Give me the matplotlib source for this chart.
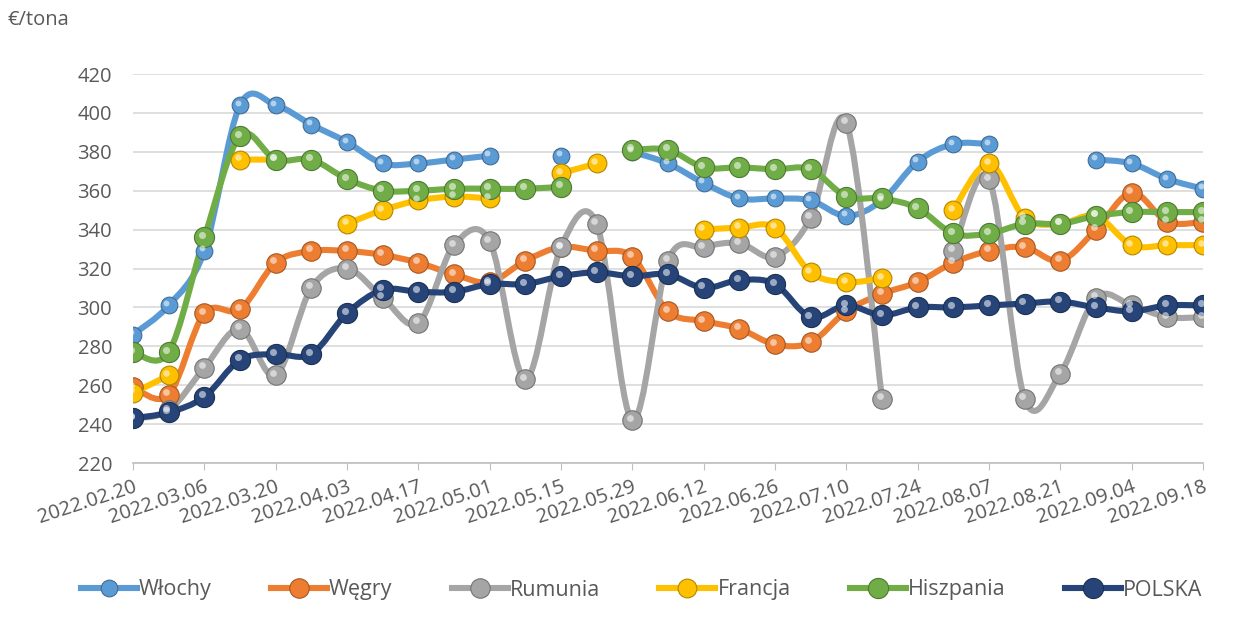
import numpy as np
import matplotlib.pyplot as plt
from matplotlib.path import Path
from matplotlib.patches import PathPatch
from matplotlib.lines import Line2D
from matplotlib import transforms

plt.rcParams['font.family'] = ['Open Sans', 'DejaVu Sans']

nan = np.nan

dates = ['2022.02.20', '2022.02.27', '2022.03.06', '2022.03.13', '2022.03.20', '2022.03.27',
         '2022.04.03', '2022.04.10', '2022.04.17', '2022.04.24', '2022.05.01', '2022.05.08',
         '2022.05.15', '2022.05.22', '2022.05.29', '2022.06.05', '2022.06.12', '2022.06.19',
         '2022.06.26', '2022.07.03', '2022.07.10', '2022.07.17', '2022.07.24', '2022.07.31',
         '2022.08.07', '2022.08.14', '2022.08.21', '2022.08.28', '2022.09.04', '2022.09.11',
         '2022.09.18']

wlochy = [286, 301, 329, 404, 404, 394, 385, 374, 374, 376, 378, nan, 378, nan, 380, 374,
          364, 356, 356, 355, 347, 355, 375, 384, 384, nan, nan, 376, 374, 366, 361]
wegry = [259, 255, 297, 299, 323, 329, 329, 327, 323, 317, 313, 324, 331, 329, 326, 298,
         293, 289, 281, 282, 298, 307, 313, 323, 329, 331, 324, 340, 359, 344, 344]
rumunia = [243, 247, 269, 289, 265, 310, 320, 305, 292, 332, 334, 263, 331, 343, 242, 324,
           331, 333, 326, 346, 395, 253, nan, 329, 366, 253, 266, 305, 301, 295, 295]
francja = [256, 265, nan, 376, 376, nan, 343, 350, 355, 357, 356, nan, 369, 374, nan, nan,
           340, 341, 341, 318, 313, 315, nan, 350, 374, 346, 343, 347, 332, 332, 332]
hiszpania = [277, 277, 336, 388, 376, 376, 366, 360, 360, 361, 361, 361, 362, nan, 381, 381,
             372, 372, 371, 371, 357, 356, 351, 338, 338, 343, 343, 347, 349, 349, 349]
polska = [243, 246, 254, 273, 276, 276, 297, 309, 308, 308, 312, 312, 316, 318, 316, 317,
          310, 314, 312, 295, 301, 296, 300, 300, 301, 302, 303, 300, 298, 301, 301]

series = [('Włochy', wlochy, '#5B9BD5', 12),
          ('Węgry', wegry, '#ED7D31', 14),
          ('Rumunia', rumunia, '#A5A5A5', 14),
          ('Francja', francja, '#FFC000', 13.5),
          ('Hiszpania', hiszpania, '#70AD47', 14.5),
          ('POLSKA', polska, '#264478', 14.5)]


def darker(c, f=0.7):
    r, g, b = [int(c[i:i + 2], 16) / 255 for i in (1, 3, 5)]
    return (r * f, g * f, b * f)


def smooth_path(xs, ys):
    # bezier segments like excel's "smoothed line"
    pts = list(zip(xs, ys))
    verts = [pts[0]]
    codes = [Path.MOVETO]
    n = len(pts)
    for i in range(n - 1):
        p0 = pts[i - 1] if i > 0 else pts[i]
        p1 = pts[i]
        p2 = pts[i + 1]
        p3 = pts[i + 2] if i + 2 < n else pts[i + 1]
        c1 = (p1[0] + (p2[0] - p0[0]) / 6, p1[1] + (p2[1] - p0[1]) / 6)
        c2 = (p2[0] - (p3[0] - p1[0]) / 6, p2[1] - (p3[1] - p1[1]) / 6)
        verts += [c1, c2, p2]
        codes += [Path.CURVE4] * 3
    return Path(verts, codes)


fig = plt.figure(figsize=(12.53, 6.19), dpi=100)
ax = fig.add_axes([133 / 1253, 1 - 463 / 619, 1070 / 1253, 389 / 619])

x = np.arange(len(dates))
hl = transforms.offset_copy(ax.transData, fig=fig, x=-2.5, y=2.5, units='dots')

for name, vals, col, ms in series:
    v = np.array(vals, dtype=float)
    # split into runs without gaps
    run = []
    runs = []
    for i, val in enumerate(v):
        if np.isnan(val):
            if run:
                runs.append(run)
            run = []
        else:
            run.append(i)
    if run:
        runs.append(run)
    for r in runs:
        if len(r) > 1:
            p = smooth_path(x[r], v[r])
            ax.add_patch(PathPatch(p, facecolor='none', edgecolor=col, lw=4.4,
                                   capstyle='round', joinstyle='round', zorder=2))
    ax.plot(x, v, ls='none', marker='o', ms=ms, mfc=col, mec=darker(col), mew=0.8, zorder=3)
    ax.plot(x, v, ls='none', marker='o', ms=ms * 0.35, mfc='white', mec='none', alpha=0.55,
            transform=hl, zorder=4)

ax.set_xlim(0, len(dates) - 1)
ax.set_ylim(220, 420)
ax.set_yticks(range(220, 421, 20))
ax.set_xticks(x[::2])
ax.set_xticklabels(dates[::2], rotation=18, ha='right', rotation_mode='anchor')
ax.tick_params(axis='x', length=5, color='#BFBFBF', labelsize=14.5, labelcolor='#595959', pad=5)
ax.tick_params(axis='y', length=0, labelsize=14.5, labelcolor='#595959', pad=15)
ax.grid(axis='y', color='#D9D9D9', lw=1.2)
ax.set_axisbelow(True)
for s in ['top', 'right', 'left']:
    ax.spines[s].set_visible(False)
ax.spines['bottom'].set_color('#BFBFBF')
ax.spines['bottom'].set_linewidth(1.2)

fig.text(8 / 1253, 1 - 20 / 619, '€/tona', fontsize=14.5, color='#595959', va='center')

handles = [Line2D([0], [0], color=col, lw=4.4, marker='o', ms=ms, mfc=col,
                  mec=darker(col), mew=0.8) for _, _, col, ms in series]
fig.legend(handles, [s[0] for s in series], loc='center', bbox_to_anchor=(0.512, 1 - 590 / 619),
           ncol=6, frameon=False, fontsize=15.5, labelcolor='#595959', handlelength=2.6,
           handletextpad=0.1, columnspacing=2.75)

fig.savefig('out.png', dpi=100)
